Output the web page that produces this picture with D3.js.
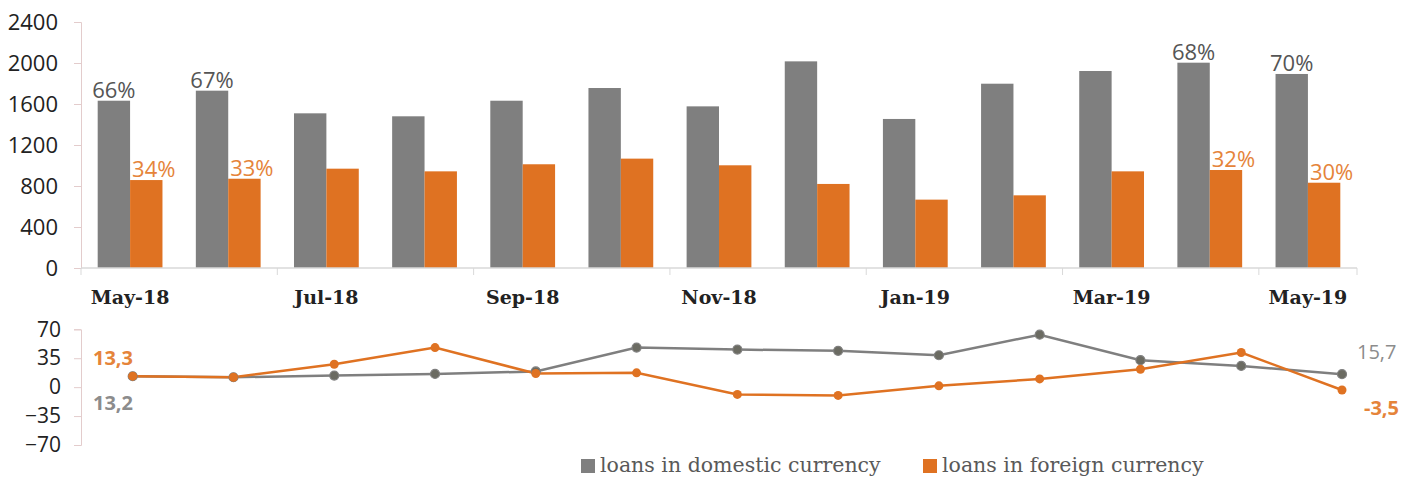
<!DOCTYPE html>
<html>
<head>
<meta charset="utf-8">
<script src="https://cdn.jsdelivr.net/npm/d3@7"></script>
<style>
  body { margin: 0; background: #fff; }
  svg { display: block; }
</style>
</head>
<body>
<svg id="chart" width="1415" height="477"></svg>
<script>
// data
const months = ["May-18", "Jun-18", "Jul-18", "Aug-18", "Sep-18", "Oct-18", "Nov-18", "Dec-18", "Jan-19", "Feb-19", "Mar-19", "Apr-19", "May-19"];
const domestic = [1632, 1730, 1509, 1480, 1632, 1756, 1577, 2016, 1454, 1798, 1922, 2003, 1893];
const foreign = [858, 871, 969, 943, 1012, 1067, 1002, 820, 667, 709, 943, 956, 832];
const domesticShare = ["66%", "67%", "", "", "", "", "", "", "", "", "", "68%", "70%"];
const foreignShare = ["34%", "33%", "", "", "", "", "", "", "", "", "", "32%", "30%"];
const domesticGrowth = [13.2, 12, 14, 16, 19, 47.9, 45.5, 44, 38.6, 63.5, 32.6, 25.7, 15.7];
const foreignGrowth = [13.3, 12, 27.7, 47.9, 16.5, 17.3, -8.8, -10, 1.6, 10, 21.7, 41.9, -3.5];
const barTicks = [0, 400, 800, 1200, 1600, 2000, 2400];
const lineTicks = [-70, -35, 0, 35, 70];
const seriesNames = ["loans in domestic currency", "loans in foreign currency"];

const GRAY = "#7f7f7f";
const ORANGE = "#df7222";
const AXIS_PINK = "#e3cccc";
const SANS = "'Open Sans', 'Noto Sans', sans-serif";
const SERIF = "'DejaVu Serif', 'Liberation Serif', serif";

const svg = d3.select("#chart");

// ---------- top: bars ----------
const x0 = d3.scaleBand().domain(months).range([81, 1357]).padding(0);
const x1 = d3.scaleBand().domain(["dom", "for"]).range([x0.bandwidth() * 0.17, x0.bandwidth() * 0.83]);
const yBar = d3.scaleLinear().domain([0, 2400]).range([268, 22]);

const yAxisBar = svg.append("g")
  .attr("transform", "translate(81,0)")
  .call(d3.axisLeft(yBar).tickValues(barTicks).tickFormat(d3.format("d")).tickSize(7).tickPadding(16));
yAxisBar.select(".domain").attr("stroke", AXIS_PINK);
yAxisBar.selectAll(".tick line").attr("stroke", AXIS_PINK);
yAxisBar.selectAll("text").attr("font-family", SANS).attr("font-size", 22).attr("fill", "#222");

const groups = svg.append("g").selectAll("g")
  .data(months)
  .join("g")
  .attr("transform", (d) => `translate(${x0(d)},0)`);

groups.append("rect")
  .attr("x", x1("dom"))
  .attr("width", x1.bandwidth())
  .attr("y", (d, i) => yBar(domestic[i]))
  .attr("height", (d, i) => yBar(0) - yBar(domestic[i]))
  .attr("fill", GRAY);

groups.append("rect")
  .attr("x", x1("for"))
  .attr("width", x1.bandwidth())
  .attr("y", (d, i) => yBar(foreign[i]))
  .attr("height", (d, i) => yBar(0) - yBar(foreign[i]))
  .attr("fill", ORANGE);

// share labels
groups.append("text")
  .attr("x", x1("dom") + x1.bandwidth() / 2)
  .attr("y", (d, i) => yBar(domestic[i]) - 3)
  .attr("text-anchor", "middle")
  .attr("font-family", SANS)
  .attr("font-size", 22)
  .attr("fill", "#555")
  .text((d, i) => domesticShare[i]);

groups.append("text")
  .attr("x", x1("for") + 2)
  .attr("y", (d, i) => yBar(foreign[i]) - 3)
  .attr("font-family", SANS)
  .attr("font-size", 22)
  .attr("fill", "#e5843a")
  .text((d, i) => foreignShare[i]);

// x axis: ticks between every second month, labels under every second month
const xAxisG = svg.append("g").attr("transform", "translate(0,268)");
xAxisG.append("line")
  .attr("x1", 81).attr("x2", 1357)
  .attr("stroke", "#d9d9d9").attr("stroke-width", 1.5);
xAxisG.selectAll(".tk")
  .data(months.filter((d, i) => i % 2 == 0).concat([null]))
  .join("line")
  .attr("class", "tk")
  .attr("x1", (d) => (d ? x0(d) : 1357))
  .attr("x2", (d) => (d ? x0(d) : 1357))
  .attr("y1", 0).attr("y2", 7)
  .attr("stroke", "#d9d9d9");
xAxisG.selectAll(".lbl")
  .data(months.filter((d, i) => i % 2 == 0))
  .join("text")
  .attr("class", "lbl")
  .attr("x", (d) => x0(d) + x0.bandwidth() / 2)
  .attr("y", 36)
  .attr("text-anchor", "middle")
  .attr("font-family", SERIF)
  .attr("font-weight", "bold")
  .attr("font-size", 19)
  .attr("fill", "#222")
  .text((d) => d);

// ---------- bottom: growth lines ----------
const xLine = d3.scalePoint().domain(months).range([132.7, 1342]);
const yLine = d3.scaleLinear().domain([-70, 70]).range([445, 329.3]);

const yAxisLine = svg.append("g")
  .attr("transform", "translate(81,0)")
  .call(d3.axisLeft(yLine).tickValues(lineTicks).tickSize(7).tickPadding(13));
yAxisLine.select(".domain").attr("stroke", AXIS_PINK);
yAxisLine.selectAll(".tick line").attr("stroke", AXIS_PINK);
yAxisLine.selectAll("text").attr("font-family", SANS).attr("font-size", 21).attr("fill", "#222");

const lineGen = d3.line().x((d, i) => xLine(months[i])).y((d) => yLine(d));

svg.append("path")
  .attr("d", lineGen(domesticGrowth))
  .attr("fill", "none").attr("stroke", GRAY).attr("stroke-width", 2.5);
svg.append("path")
  .attr("d", lineGen(foreignGrowth))
  .attr("fill", "none").attr("stroke", ORANGE).attr("stroke-width", 2.5);

svg.append("g").selectAll("circle")
  .data(domesticGrowth)
  .join("circle")
  .attr("cx", (d, i) => xLine(months[i]))
  .attr("cy", (d) => yLine(d))
  .attr("r", 4.5)
  .attr("fill", "#6b6b62").attr("stroke", GRAY).attr("stroke-width", 1.2);

svg.append("g").selectAll("circle")
  .data(foreignGrowth)
  .join("circle")
  .attr("cx", (d, i) => xLine(months[i]))
  .attr("cy", (d) => yLine(d))
  .attr("r", 4.5)
  .attr("fill", ORANGE);

// end labels
const fmt = (v) => String(v).replace(".", ",");
const last = months.length - 1;
const endLabels = [
  { x: 93, y: yLine(foreignGrowth[0]) - 11, v: foreignGrowth[0], c: "#e5843a", w: "bold" },
  { x: 93, y: yLine(domesticGrowth[0]) + 34, v: domesticGrowth[0], c: "#8c8c8c", w: "bold" },
  { x: 1357, y: yLine(domesticGrowth[last]) - 15, v: domesticGrowth[last], c: "#8c8c8c", w: "normal" },
  { x: 1364, y: yLine(foreignGrowth[last]) + 25, v: foreignGrowth[last], c: "#e5843a", w: "bold" },
];
svg.append("g").selectAll("text")
  .data(endLabels)
  .join("text")
  .attr("x", (d) => d.x)
  .attr("y", (d) => d.y)
  .attr("font-family", SANS)
  .attr("font-size", 20)
  .attr("font-weight", (d) => d.w)
  .attr("fill", (d) => d.c)
  .text((d) => fmt(d.v));

// ---------- legend ----------
const legend = svg.append("g").attr("transform", "translate(581,472)");
const legendX = [0, 342];
const legendC = [GRAY, ORANGE];
seriesNames.forEach((name, i) => {
  legend.append("rect")
    .attr("x", legendX[i]).attr("y", -13)
    .attr("width", 14).attr("height", 14)
    .attr("fill", legendC[i]);
  legend.append("text")
    .attr("x", legendX[i] + 19).attr("y", 0)
    .attr("font-family", SERIF)
    .attr("font-size", 20.5)
    .attr("fill", "#595959")
    .text(name);
});
</script>
</body>
</html>
